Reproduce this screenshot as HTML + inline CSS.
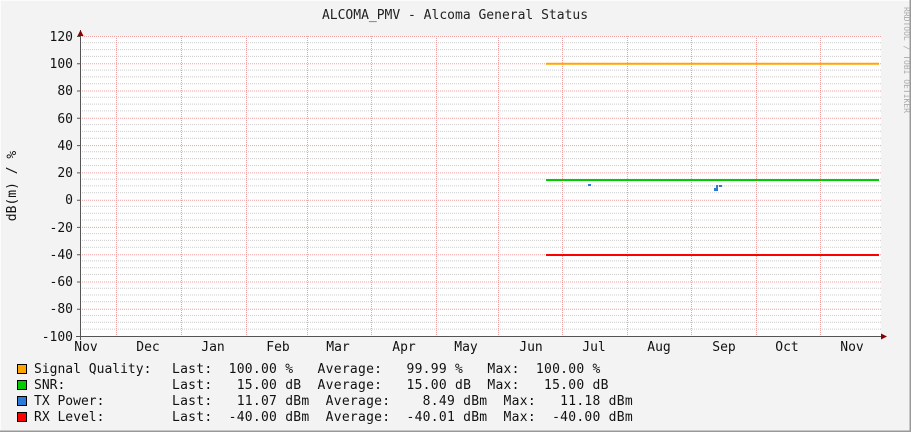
<!DOCTYPE html>
<html><head><style>
html,body{margin:0;padding:0;background:#f3f3f3}
svg{display:block;font-family:"DejaVu Sans Mono","Liberation Mono",monospace}
text{white-space:pre}
.lg{letter-spacing:0.26px}
</style></head><body>
<svg width="911" height="432" xmlns="http://www.w3.org/2000/svg">
<rect x="0" y="0" width="911" height="432" fill="#f3f3f3"/>
<path d="M0.5 431.5V0.5H910.5" stroke="#fcfcfc" fill="none"/>
<path d="M0 431.5H910.5V0" stroke="#999" stroke-width="2" fill="none"/>
<rect x="80" y="36" width="801" height="300" fill="#fff"/>
<g stroke="#ccc" stroke-dasharray="1,1" stroke-width="1">
<path d="M80 42.8H881M80 49.6H881M80 56.4H881M80 70.1H881M80 76.9H881M80 83.7H881M80 97.3H881M80 104.1H881M80 110.9H881M80 124.6H881M80 131.4H881M80 138.2H881M80 151.8H881M80 158.6H881M80 165.5H881M80 179.1H881M80 185.9H881M80 192.7H881M80 206.4H881M80 213.2H881M80 220H881M80 233.6H881M80 240.4H881M80 247.3H881M80 260.9H881M80 267.7H881M80 274.5H881M80 288.2H881M80 295H881M80 301.8H881M80 315.5H881M80 322.3H881M80 329.1H881"/>
</g>
<g stroke="#f0a0a0" stroke-dasharray="1,1" stroke-width="1">
<path d="M80 36.5H881M80 63.8H881M80 91H881M80 118.3H881M80 145.6H881M80 172.9H881M80 200.2H881M80 227.4H881M80 254.7H881M80 282H881M80 309.3H881"/>
<path d="M116.5 36V336M181.5 36V336M246.5 36V336M307.5 36V336M371.5 36V336M436.5 36V336M498.5 36V336M562.5 36V336M627.5 36V336M691.5 36V336M756.5 36V336M820.5 36V336"/>
</g>
<path d="M80.5 30V340M76 336.5H885" stroke="#555" stroke-width="1"/>
<path d="M77 36.5H80M77 63.8H80M77 91H80M77 118.3H80M77 145.6H80M77 172.9H80M77 200.2H80M77 227.4H80M77 254.7H80M77 282H80M77 309.3H80" stroke="#555"/>
<path d="M77.5 36L80.5 30L83.5 36Z" fill="#800"/>
<path d="M881 333.5L887 336.5L881 339.5Z" fill="#800"/>
<g stroke-width="2" fill="none">
<path d="M546 63.8H879" stroke="#ffa500"/>
<path d="M546 180H879" stroke="#00cc00"/>
<path d="M546 255H879" stroke="#ff0000"/>
</g>
<path d="M588 184h3v2h-3zM714 188h4v3h-4zM716 185h2v3h-2zM719 185h3v2h-3z" fill="#2a7ad8"/>
<text x="455" y="19" font-size="13" text-anchor="middle" fill="#222">ALCOMA_PMV - Alcoma General Status</text>
<g font-size="13" fill="#111" text-anchor="end">
<text x="73" y="41">120</text><text x="73" y="68">100</text><text x="73" y="95">80</text>
<text x="73" y="123">60</text><text x="73" y="150">40</text><text x="73" y="177">20</text>
<text x="73" y="204">0</text><text x="73" y="232">-20</text><text x="73" y="259">-40</text>
<text x="73" y="286">-60</text><text x="73" y="313">-80</text><text x="73" y="341">-100</text>
</g>
<g font-size="13" fill="#111" text-anchor="middle">
<text x="86" y="351">Nov</text><text x="148" y="351">Dec</text><text x="213" y="351">Jan</text>
<text x="278" y="351">Feb</text><text x="338" y="351">Mar</text><text x="404" y="351">Apr</text>
<text x="466" y="351">May</text><text x="531" y="351">Jun</text><text x="594" y="351">Jul</text>
<text x="659" y="351">Aug</text><text x="724" y="351">Sep</text><text x="787" y="351">Oct</text>
<text x="852" y="351">Nov</text>
</g>
<text transform="translate(16,186) rotate(-90)" font-size="13" fill="#111" text-anchor="middle">dB(m) / %</text>
<text transform="translate(904,60) rotate(90)" font-size="8" fill="#aaa" text-anchor="middle">RRDTOOL / TOBI OETIKER</text>
<g stroke="#000" stroke-width="1">
<rect x="17.5" y="364.5" width="9" height="9" fill="#ffa500"/>
<rect x="17.5" y="380.5" width="9" height="9" fill="#00cc00"/>
<rect x="17.5" y="396.5" width="9" height="9" fill="#2a7ad8"/>
<rect x="17.5" y="412.5" width="9" height="9" fill="#ff0000"/>
</g>
<g font-size="13" fill="#111">
<text x="34" y="373">Signal Quality:</text><text x="34" y="389">SNR:</text><text x="34" y="405">TX Power:</text><text x="34" y="421">RX Level:</text>
<text class="lg" x="172" y="373">Last:  100.00 %   Average:   99.99 %   Max:  100.00 %</text>
<text class="lg" x="172" y="389">Last:   15.00 dB  Average:   15.00 dB  Max:   15.00 dB</text>
<text class="lg" x="172" y="405">Last:   11.07 dBm  Average:    8.49 dBm  Max:   11.18 dBm</text>
<text class="lg" x="172" y="421">Last:  -40.00 dBm  Average:  -40.01 dBm  Max:  -40.00 dBm</text>
</g>
</svg>
</body></html>
